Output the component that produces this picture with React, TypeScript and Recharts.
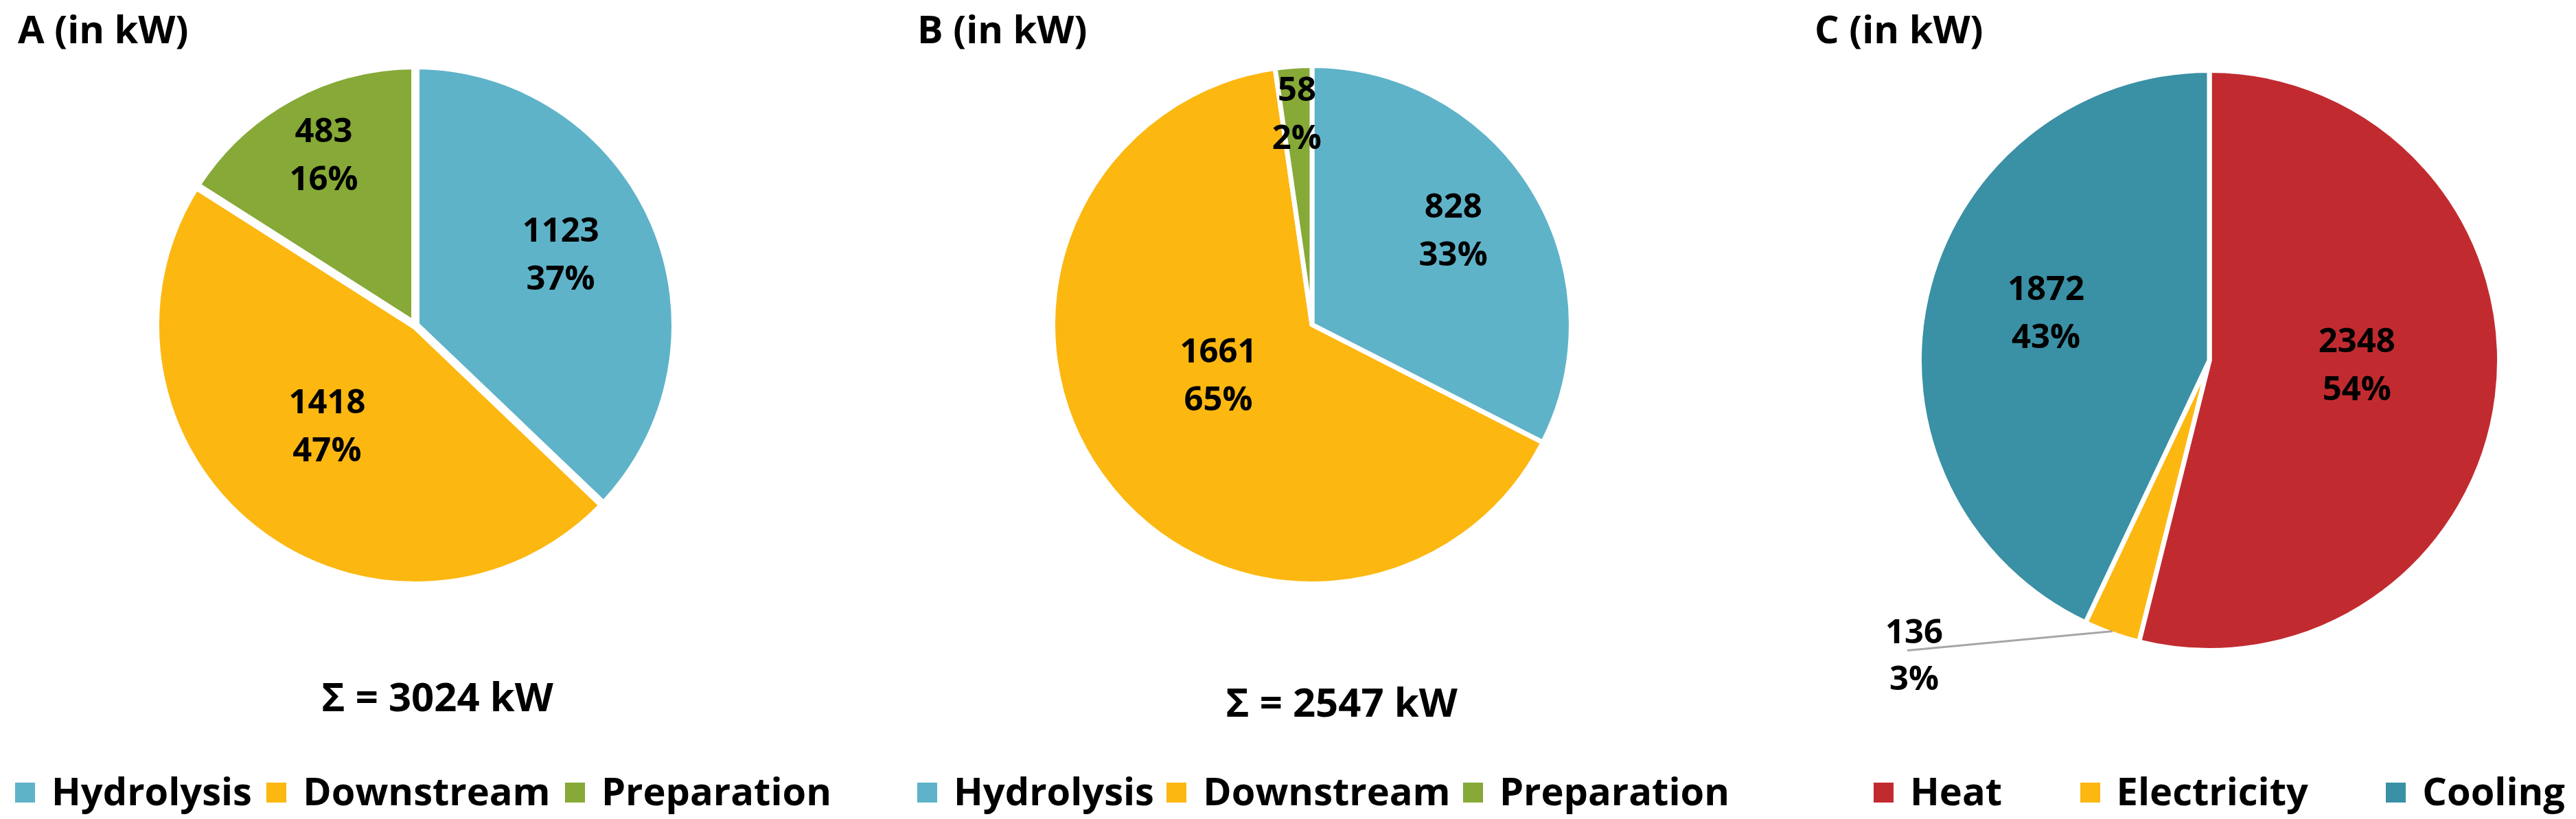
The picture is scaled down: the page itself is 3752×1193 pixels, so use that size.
import { PieChart, Pie, Cell } from 'recharts';

const PROCESS_NAMES = ['Hydrolysis', 'Downstream', 'Preparation'];
const A_VALUES = [1123, 1418, 483];
const B_VALUES = [828, 1661, 58];
const ENERGY_NAMES = ['Heat', 'Electricity', 'Cooling'];
const C_VALUES = [2348, 136, 1872];
const TITLES = ['A (in kW)', 'B (in kW)', 'C (in kW)'];
const OUTSIDE_LABELS = ['Electricity'];

const PROCESS_COLORS = ['#5FB3C8', '#FCB711', '#86A937'];
const ENERGY_COLORS = ['#C12B30', '#FCB711', '#3A90A5'];

const FONT = "'Open Sans', 'Noto Sans', sans-serif";
const RAD = Math.PI / 180;

const toRows = (names: string[], values: number[]) => names.map((name, i) => ({ name, value: values[i] }));

// legend spans: left edge of first swatch -> right edge of last text
const panels = [
    { title: TITLES[0], names: PROCESS_NAMES, values: A_VALUES, colors: PROCESS_COLORS, cx: 605, cy: 474, r: 373, gap: 12, titleX: 26, sum: { x: 637, y: 1036 }, legendX: 22, legendW: 1189 },
    { title: TITLES[1], names: PROCESS_NAMES, values: B_VALUES, colors: PROCESS_COLORS, cx: 1911, cy: 473, r: 374, gap: 7, titleX: 1336, sum: { x: 1954, y: 1044 }, legendX: 1336, legendW: 1183 },
    { title: TITLES[2], names: ENERGY_NAMES, values: C_VALUES, colors: ENERGY_COLORS, cx: 3218, cy: 525, r: 419, gap: 7, titleX: 2643, sum: null, legendX: 2729, legendW: 1007 },
];

function makeLabel(r: number) {
    // eslint-disable-next-line @typescript-eslint/no-explicit-any
    return (p: any) => {
        const name = p.payload?.name ?? p.name;
        const cos = Math.cos(-p.midAngle * RAD);
        const sin = Math.sin(-p.midAngle * RAD);
        const pct = `${Math.round(p.percent * 100)}%`;
        const textProps = { fontFamily: FONT, fontWeight: 700, fontSize: 49, fill: '#000', textAnchor: 'middle' as const };

        if (OUTSIDE_LABELS.includes(name)) {
            const sx = p.cx + r * cos;
            const sy = p.cy + r * sin;
            const ex = sx - 299;
            const ey = sy + 28;
            return (
                <g>
                    <line x1={sx} y1={sy} x2={ex} y2={ey} stroke="#A6A6A6" strokeWidth={3} />
                    <text {...textProps}>
                        <tspan x={ex + 10} y={ey - 11}>{p.value}</tspan>
                        <tspan x={ex + 10} y={ey + 57}>{pct}</tspan>
                    </text>
                </g>
            );
        }

        // bigger slices keep their label closer to the centre and a bit higher
        const f = 0.84 - 0.6 * p.percent;
        const x = p.cx + r * f * cos;
        const y = p.cy + r * f * sin - 40 * p.percent;
        return (
            <text {...textProps}>
                <tspan x={x} y={y - 17}>{p.value}</tspan>
                <tspan x={x} y={y + 53}>{pct}</tspan>
            </text>
        );
    };
}

function PanelLegend({ names, colors, left, width }: { names: string[]; colors: string[]; left: number; width: number }) {
    return (
        <div style={{ position: 'absolute', left, top: 1123, width, display: 'flex', justifyContent: 'space-between', whiteSpace: 'nowrap' }}>
            {names.map((n, i) => (
                <div key={n} style={{ display: 'flex', alignItems: 'flex-start' }}>
                    <div style={{ width: 29, height: 29, marginTop: 17, marginRight: 24, background: colors[i] }} />
                    <span style={{ fontFamily: FONT, fontWeight: 700, fontSize: 56, lineHeight: '56px', color: '#000' }}>{n}</span>
                </div>
            ))}
        </div>
    );
}

export default function App() {
    return (
        <div style={{ position: 'absolute', left: 0, top: 0, width: 3752, height: 1193, background: '#fff', overflow: 'hidden' }}>
            <PieChart width={3752} height={1193} margin={{ top: 0, right: 0, bottom: 0, left: 0 }}>
                {panels.map(pn => (
                    <Pie
                        key={pn.title}
                        data={toRows(pn.names, pn.values)}
                        dataKey="value"
                        nameKey="name"
                        cx={pn.cx}
                        cy={pn.cy}
                        outerRadius={pn.r + pn.gap / 2}
                        startAngle={90}
                        endAngle={-270}
                        stroke="#fff"
                        strokeWidth={pn.gap}
                        label={makeLabel(pn.r)}
                        labelLine={false}
                        isAnimationActive={false}
                    >
                        {pn.names.map((n, i) => (
                            <Cell key={n} fill={pn.colors[i]} />
                        ))}
                    </Pie>
                ))}
            </PieChart>
            <svg width={3752} height={1193} style={{ position: 'absolute', left: 0, top: 0, pointerEvents: 'none' }}>
                {panels.map(pn => (
                    <g key={pn.title} fontFamily={FONT} fontWeight={700} fill="#000">
                        <text x={pn.titleX} y={63} fontSize={56}>{pn.title}</text>
                        {pn.sum && (
                            <text x={pn.sum.x} y={pn.sum.y} fontSize={58} textAnchor="middle">
                                {`Σ = ${pn.values.reduce((a, b) => a + b, 0)} kW`}
                            </text>
                        )}
                    </g>
                ))}
            </svg>
            {panels.map(pn => (
                <PanelLegend key={pn.title} names={pn.names} colors={pn.colors} left={pn.legendX} width={pn.legendW} />
            ))}
        </div>
    );
}
